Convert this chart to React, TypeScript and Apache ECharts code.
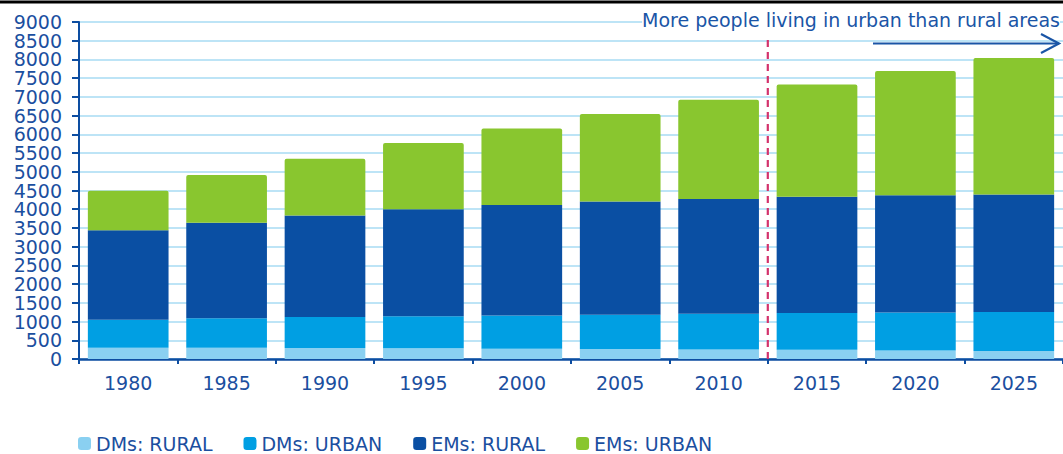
import React, { useEffect, useRef } from "react";
import * as echarts from "echarts";

const categories = ["1980", "1985", "1990", "1995", "2000", "2005", "2010", "2015", "2020", "2025"];
const dmsRural = [300, 300, 295, 285, 275, 265, 255, 245, 230, 215];
const dmsUrban = [750, 790, 825, 855, 890, 920, 955, 985, 1015, 1040];
const emsRural = [2390, 2550, 2710, 2860, 2950, 3020, 3060, 3100, 3125, 3135];
const emsUrban = [1050, 1275, 1515, 1770, 2040, 2340, 2655, 3000, 3320, 3650];
const seriesNames = ["DMs: RURAL", "DMs: URBAN", "EMs: RURAL", "EMs: URBAN"];
const yTickLabels = [0, 500, 1000, 1500, 2000, 2500, 3000, 3500, 4000, 4500, 5000, 5500, 6000, 6500, 7000, 7500, 8000, 8500, 9000];
const annotationText = "More people living in urban than rural areas";
const splitAfterCategory = "2010";

const TEXT = "#1b4f9f";
const AXIS = "#0d4da1";
const COLORS = ["#8ad0f1", "#009fe3", "#0a4fa3", "#89c62f"];
const FONT = "DejaVu Sans";

export default function App() {
  const ref = useRef<HTMLDivElement>(null);
  useEffect(() => {
    document.body.style.margin = "0";
    const chart = echarts.init(ref.current!, null, { renderer: "svg" });
    const data = [dmsRural, dmsUrban, emsRural, emsUrban];
    chart.setOption({
      animation: false,
      grid: { left: 79, right: 0, top: 22, bottom: 95, containLabel: false },
      legend: {
        data: seriesNames,
        left: 73,
        top: 429,
        icon: "roundRect",
        itemWidth: 13,
        itemHeight: 13,
        itemGap: 31,
        textStyle: { color: TEXT, fontSize: 19, fontFamily: FONT },
      },
      xAxis: {
        type: "category",
        data: categories,
        axisLine: { lineStyle: { color: AXIS, width: 2.5 } },
        axisTick: { show: true, length: 5, lineStyle: { color: AXIS, width: 2 } },
        axisLabel: { color: TEXT, fontSize: 19, fontFamily: FONT, margin: 14 },
      },
      yAxis: {
        type: "value",
        min: 0,
        max: 9000,
        interval: 500,
        axisLine: { show: true, lineStyle: { color: AXIS, width: 2 } },
        axisTick: { show: true, length: 7, lineStyle: { color: AXIS, width: 2 } },
        axisLabel: { show: false },
        splitLine: { lineStyle: { color: "#bde4f6", width: 2 } },
      },
      series: seriesNames.map((name, i) => ({
        name,
        type: "bar",
        stack: "pop",
        data: data[i],
        barCategoryGap: "18%",
        itemStyle: {
          color: COLORS[i],
          borderRadius: i === 3 ? [2, 2, 0, 0] : 0,
        },
      })),
    });

    const x0 = chart.convertToPixel({ xAxisIndex: 0 }, categories[0]) as number;
    const x1 = chart.convertToPixel({ xAxisIndex: 0 }, categories[1]) as number;
    const band = x1 - x0;
    const xs = (chart.convertToPixel({ xAxisIndex: 0 }, splitAfterCategory) as number) + band / 2;
    const yBase = chart.convertToPixel({ yAxisIndex: 0 }, 0) as number;

    const yLabels = yTickLabels.map((v) => ({
      type: "text",
      x: 62,
      y: chart.convertToPixel({ yAxisIndex: 0 }, v) as number,
      style: {
        text: String(v),
        fill: TEXT,
        fontSize: 19,
        lineHeight: 17,
        fontFamily: FONT,
        align: "right",
        verticalAlign: "middle",
      },
    }));

    chart.setOption({
      graphic: [
        { type: "rect", shape: { x: 0, y: 0.5, width: 1063, height: 3 }, style: { fill: "#000" } },
        ...yLabels,
        {
          type: "line",
          shape: { x1: xs, y1: 40, x2: xs, y2: yBase },
          style: { stroke: "#d4326c", lineWidth: 2.2, lineDash: [7, 5] },
          z: 10,
        },
        {
          type: "text",
          x: 1060,
          y: 20,
          style: {
            text: annotationText,
            fill: "#1a55a6",
            fontSize: 19,
            fontFamily: FONT,
            align: "right",
            verticalAlign: "middle",
            backgroundColor: "#fff",
          },
          z: 10,
        },
        {
          type: "polyline",
          shape: { points: [[873, 43.5], [1059, 43.5]] },
          style: { stroke: "#1a55a6", lineWidth: 2.2, fill: null },
          z: 10,
        },
        {
          type: "polyline",
          shape: { points: [[1041, 34], [1059, 43.5], [1041, 53]] },
          style: { stroke: "#1a55a6", lineWidth: 2.2, fill: null },
          z: 10,
        },
      ],
    });
    return () => chart.dispose();
  }, []);
  return <div ref={ref} style={{ width: 1063, height: 454 }} />;
}
